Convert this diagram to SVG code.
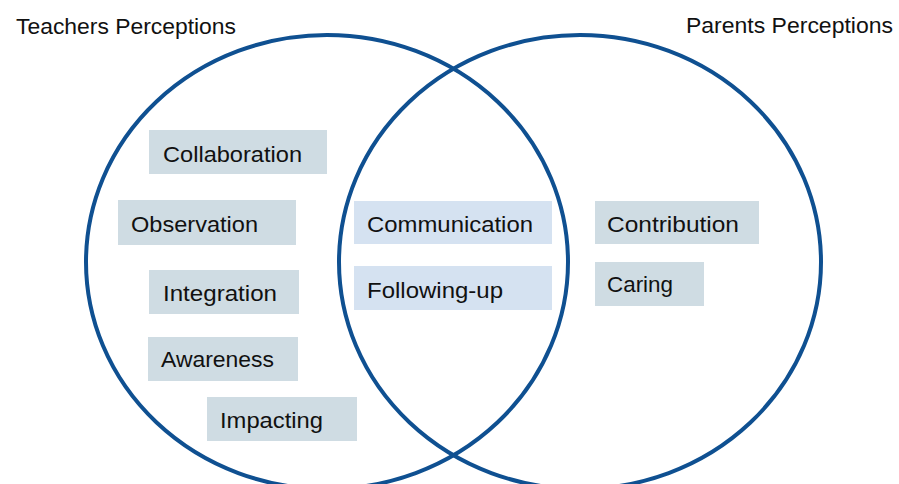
<svg xmlns="http://www.w3.org/2000/svg" width="899" height="484" viewBox="0 0 899 484">
<style>
.ring{fill:none;stroke:#0f5091;stroke-width:4}
.box{fill:#cfdce3}
.mid{fill:#d5e2f1}
.lbl{font-family:"Liberation Sans",Arial,sans-serif;font-size:22px;fill:#111111}
.ttl{font-family:"Liberation Sans",Arial,sans-serif;font-size:22px;fill:#111111}
</style>
<rect x="0" y="0" width="899" height="484" fill="#ffffff"/>
<g id="sets">
<ellipse id="teachers-set" class="ring" cx="327" cy="262" rx="241" ry="227"/>
<ellipse id="parents-set" class="ring" cx="580" cy="262" rx="241" ry="227"/>
</g>
<g id="titles">
<text id="teachers-title" class="ttl" x="16" y="34" textLength="220" lengthAdjust="spacingAndGlyphs">Teachers Perceptions</text>
<text id="parents-title" class="ttl" x="686" y="33" textLength="207" lengthAdjust="spacingAndGlyphs">Parents Perceptions</text>
</g>
<g id="collaboration"><rect class="box" x="149" y="130" width="178" height="44"/><text class="lbl" x="163" y="162" textLength="139" lengthAdjust="spacingAndGlyphs">Collaboration</text></g>
<g id="observation"><rect class="box" x="118" y="200" width="178" height="45"/><text class="lbl" x="131" y="232" textLength="127" lengthAdjust="spacingAndGlyphs">Observation</text></g>
<g id="integration"><rect class="box" x="149" y="270" width="150" height="44"/><text class="lbl" x="163" y="301" textLength="114" lengthAdjust="spacingAndGlyphs">Integration</text></g>
<g id="awareness"><rect class="box" x="148" y="337" width="150" height="44"/><text class="lbl" x="161" y="367" textLength="113" lengthAdjust="spacingAndGlyphs">Awareness</text></g>
<g id="impacting"><rect class="box" x="207" y="397" width="150" height="44"/><text class="lbl" x="220" y="428" textLength="103" lengthAdjust="spacingAndGlyphs">Impacting</text></g>
<g id="communication"><rect class="mid" x="354" y="201" width="198" height="43"/><text class="lbl" x="367" y="232" textLength="166" lengthAdjust="spacingAndGlyphs">Communication</text></g>
<g id="following-up"><rect class="mid" x="354" y="266" width="198" height="44"/><text class="lbl" x="367" y="298" textLength="136" lengthAdjust="spacingAndGlyphs">Following-up</text></g>
<g id="contribution"><rect class="box" x="595" y="201" width="164" height="43"/><text class="lbl" x="607" y="232" textLength="132" lengthAdjust="spacingAndGlyphs">Contribution</text></g>
<g id="caring"><rect class="box" x="595" y="262" width="109" height="44"/><text class="lbl" x="607" y="292" textLength="66" lengthAdjust="spacingAndGlyphs">Caring</text></g>
<g id="connectors"></g>
</svg>
